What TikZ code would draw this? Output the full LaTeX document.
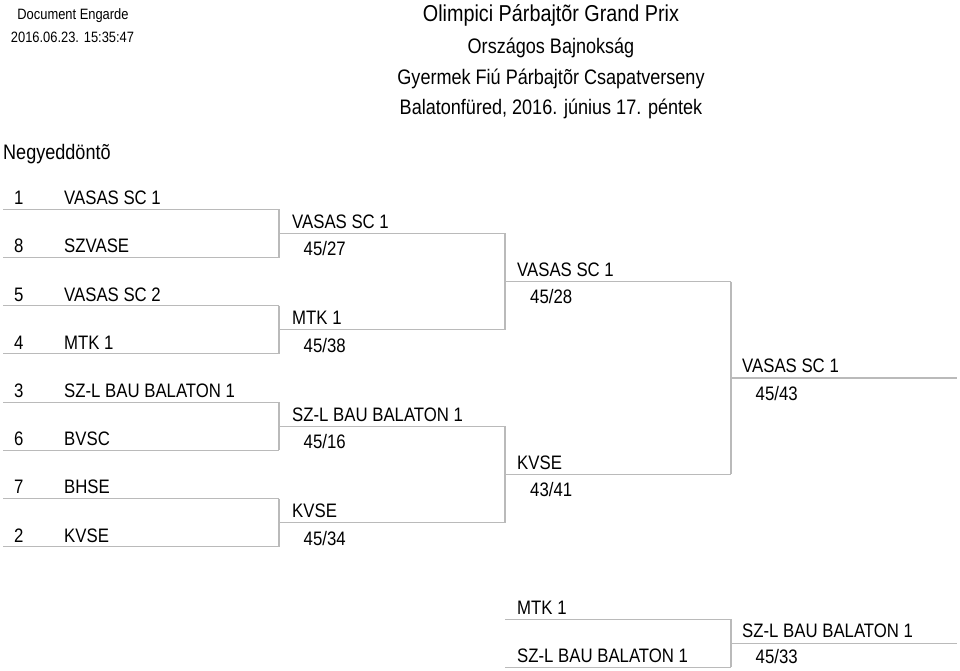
\documentclass[tikz,border=0pt]{standalone}
\usepackage{fontspec}
\setmainfont[FakeStretch=0.86]{Liberation Sans}
\begin{document}
\begin{tikzpicture}[x=1pt,y=-1pt,
  txt/.style={inner sep=0pt, anchor=base west, text=black, font=\fontsize{19.5}{22}\selectfont},
  small/.style={inner sep=0pt, anchor=base, text=black, font=\fontsize{15}{17}\selectfont},
  hdr/.style={inner sep=0pt, anchor=base, text=black, font=\fontsize{21}{24}\selectfont},
  ttl/.style={inner sep=0pt, anchor=base, text=black, font=\fontsize{23}{26}\selectfont},
  bline/.style={draw=black!27, line width=1.1pt}]
\useasboundingbox (0,0) rectangle (960,671);

% header
\node[small] (doc) at (73,20) {Document Engarde};
\node[small] (date) at (72.5,42.7) {2016.06.23. 15:35:47};
\node[ttl] (title) at (551,21.7) {Olimpici Párbajtõr Grand Prix};
\node[hdr] (sub1) at (551,53.3) {Országos Bajnokság};
\node[hdr] (sub2) at (551,85) {Gyermek Fiú Párbajtõr Csapatverseny};
\node[hdr] (sub3) at (551,115) {Balatonfüred, 2016. június 17. péntek};
\node[hdr, anchor=base west] (round) at (3,160) {Negyeddöntõ};

% first round
\foreach \n/\t [count=\i from 0] in {1/VASAS SC 1, 8/SZVASE, 5/VASAS SC 2, 4/MTK 1, 3/SZ-L BAU BALATON 1, 6/BVSC, 7/BHSE, 2/KVSE} {
  \pgfmathsetmacro\yy{209.3+48.2*\i}
  \coordinate (a\i) at (3,\yy);
  \coordinate (b\i) at (279,\yy);
  \node[txt] (num\i) at (14,\yy-4.6) {\n};
  \node[txt] (team\i) at (64,\yy-4.6) {\t};
  \draw[bline] (a\i) -- (b\i);
}

% second round
\foreach \nm/\sc [count=\i from 0] in {VASAS SC 1/{45/27}, MTK 1/{45/38}, SZ-L BAU BALATON 1/{45/16}, KVSE/{45/34}} {
  \pgfmathsetmacro\yy{233.4+96.4*\i}
  \coordinate (c\i) at (279,\yy);
  \coordinate (d\i) at (505,\yy);
  \node[txt] (cn\i) at (292,\yy-5) {\nm};
  \node[txt] (cs\i) at (303.5,\yy+22.5) {\sc};
  \draw[bline] (c\i) -- (d\i);
}
\draw[bline] (b0) -- (b1);
\draw[bline] (b2) -- (b3);
\draw[bline] (b4) -- (b5);
\draw[bline] (b6) -- (b7);

% semi-final
\foreach \nm/\sc [count=\i from 0] in {VASAS SC 1/{45/28}, KVSE/{43/41}} {
  \pgfmathsetmacro\yy{281.6+192.8*\i}
  \coordinate (e\i) at (505,\yy);
  \coordinate (f\i) at (731,\yy);
  \node[txt] (en\i) at (517,\yy-5) {\nm};
  \node[txt] (es\i) at (530,\yy+22) {\sc};
  \draw[bline] (e\i) -- (f\i);
}
\draw[bline] (d0) -- (d1);
\draw[bline] (d2) -- (d3);

% final
\coordinate (g0) at (731,378);
\coordinate (h0) at (957,378);
\draw[bline] (f0) -- (f1);
\draw[bline] (g0) -- (h0);
\node[txt] (win) at (742,372.8) {VASAS SC 1};
\node[txt] (winsc) at (755.5,400) {45/43};

% third place
\coordinate (p0) at (505,619.3);
\coordinate (q0) at (731,619.3);
\coordinate (p1) at (505,667.3);
\coordinate (q1) at (731,667.3);
\coordinate (r0) at (731,643.3);
\coordinate (r1) at (957,643.3);
\draw[bline] (p0) -- (q0);
\draw[bline] (p1) -- (q1);
\draw[bline] (q0) -- (q1);
\draw[bline] (r0) -- (r1);
\node[txt] (tp1) at (517,614) {MTK 1};
\node[txt] (tp2) at (517,662) {SZ-L BAU BALATON 1};
\node[txt] (tpw) at (742,637.5) {SZ-L BAU BALATON 1};
\node[txt] (tpsc) at (755.5,663.5) {45/33};
\end{tikzpicture}
\end{document}
